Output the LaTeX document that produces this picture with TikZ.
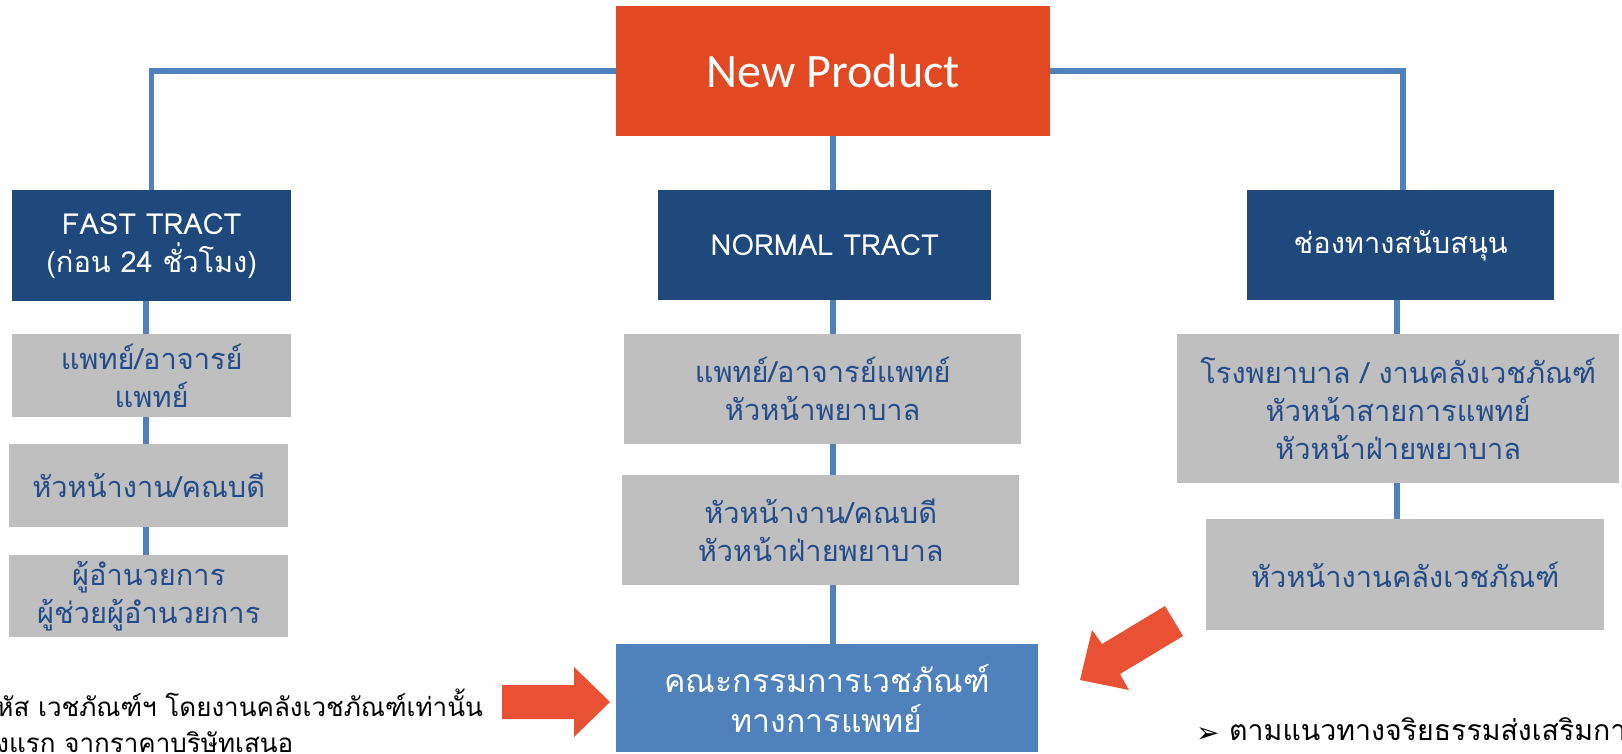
\documentclass[tikz,border=0pt]{standalone}
\usepackage{fontspec}
\newfontfamily\thai[Script=Thai]{Loma}
\newfontfamily\calib{Carlito}
\newfontfamily\dejavu{DejaVu Sans}
\usetikzlibrary{calc}
\definecolor{npred}{RGB}{226,72,34}
\definecolor{navy}{RGB}{31,73,125}
\definecolor{lgray}{RGB}{191,191,191}
\definecolor{linkblue}{RGB}{79,129,189}
\definecolor{arrred}{RGB}{232,81,51}
\definecolor{txtblue}{RGB}{36,76,138}
\tikzset{
  basebox/.style={inner sep=0pt, anchor=north west, align=center},
  topbox/.style={basebox, fill=npred, text=white, font=\calib\fontsize{48}{56}\selectfont},
  trackbox/.style={basebox, fill=navy, text=white, font=\thai\fontsize{29}{38}\selectfont},
  graybox/.style={basebox, fill=lgray, text=txtblue, font=\thai\fontsize{29}{38}\selectfont},
  combox/.style={basebox, fill=linkblue, text=white, font=\thai\fontsize{32}{40}\selectfont},
  conn/.style={draw=linkblue, line width=5.5pt},
  bigarrow/.style={fill=arrred, draw=none},
  note/.style={inner sep=0pt, text=black, font=\thai\fontsize{26}{30}\selectfont},
  bnote/.style={inner sep=0pt, text=black, font=\thai\fontsize{28.5}{30}\selectfont}
}
\begin{document}
\begin{tikzpicture}[x=1pt,y=-1pt]
\clip (0,0) rectangle (1622,753);
\fill[white] (0,0) rectangle (1622,753);

% boxes
\node[topbox, minimum width=434, minimum height=130] (np) at (616,6) {New Product};

\node[trackbox, minimum width=279, minimum height=111] (fast) at (12,190) {FAST TRACT\\(ก่อน 24 ชั่วโมง)};
\node[trackbox, minimum width=333, minimum height=110] (normal) at (658,190) {NORMAL TRACT};
\node[trackbox, minimum width=307, minimum height=110] (sup) at (1247,190) {ช่องทางสนับสนุน};

\node[graybox, minimum width=279, minimum height=83] (f1) at (12,334) {แพทย์/อาจารย์\\แพทย์};
\node[graybox, minimum width=279, minimum height=83] (f2) at (9,444) {หัวหน้างาน/คณบดี};
\node[graybox, minimum width=279, minimum height=82] (f3) at (9,555) {ผู้อำนวยการ\\ผู้ช่วยผู้อำนวยการ};

\node[graybox, minimum width=397, minimum height=110] (n1) at (624,334) {แพทย์/อาจารย์แพทย์\\หัวหน้าพยาบาล};
\node[graybox, minimum width=397, minimum height=110] (n2) at (622,475) {หัวหน้างาน/คณบดี\\หัวหน้าฝ่ายพยาบาล};
\node[combox, minimum width=422, minimum height=108] (com) at (616,644) {คณะกรรมการเวชภัณฑ์\\ทางการแพทย์};

\node[graybox, minimum width=442, minimum height=149] (s1) at (1177,334) {โรงพยาบาล / งานคลังเวชภัณฑ์\\หัวหน้าสายการแพทย์\\หัวหน้าฝ่ายพยาบาล};
\node[graybox, minimum width=398, minimum height=111] (s2) at (1206,519) {หัวหน้างานคลังเวชภัณฑ์};

% connectors
\draw[conn] (np.west) -| (fast.north);
\draw[conn] (np.east) -| ([xshift=2.5pt]sup.north);
\draw[conn] (np.south) -- (np.south |- normal.north);
\draw[conn] (np.south |- normal.south) -- (np.south |- n1.north);
\draw[conn] (np.south |- n1.south) -- (np.south |- n2.north);
\draw[conn] (np.south |- n2.south) -- (np.south |- com.north);
\draw[conn] ([xshift=-5.5pt]fast.south) -- ([xshift=-5.5pt]fast.south |- f1.north);
\draw[conn] ([xshift=-5.5pt]f1.south) -- ([xshift=-5.5pt]f1.south |- f2.north);
\draw[conn] ([xshift=-5.5pt]f1.south |- f2.south) -- ([xshift=-5.5pt]f1.south |- f3.north);
\draw[conn] ([xshift=-3.5pt]sup.south) -- ([xshift=-3.5pt]sup.south |- s1.north);
\draw[conn] ([xshift=-1pt]s1.south) -- ([xshift=-1pt]s1.south |- s2.north);

% big red arrows
\fill[bigarrow] (502,685) -- (574,685) -- (574,667) -- (610,702) -- (574,737) -- (574,719) -- (502,719) -- cycle;
\fill[bigarrow] (1080,680) -- (1092,630) -- (1102,644) -- (1165,606) -- (1183,636) -- (1120,674) -- (1129,690) -- cycle;

% notes
\node[note, anchor=base east] (n1l) at (483,716) {หัส เวชภัณฑ์ฯ โดยงานคลังเวชภัณฑ์เท่านั้น};
\node[note, anchor=base west] (n2l) at (n1l.base west |- 0,752) {งแรก จากราคาบริษัทเสนอ};
\node[inner sep=0pt, anchor=base west, font=\dejavu\fontsize{28}{30}\selectfont] (bul) at (1196,742) {➢};
\node[bnote, anchor=base west] (bt) at (1229,740) {ตามแนวทางจริยธรรมส่งเสริมการขาย};
\end{tikzpicture}
\end{document}
